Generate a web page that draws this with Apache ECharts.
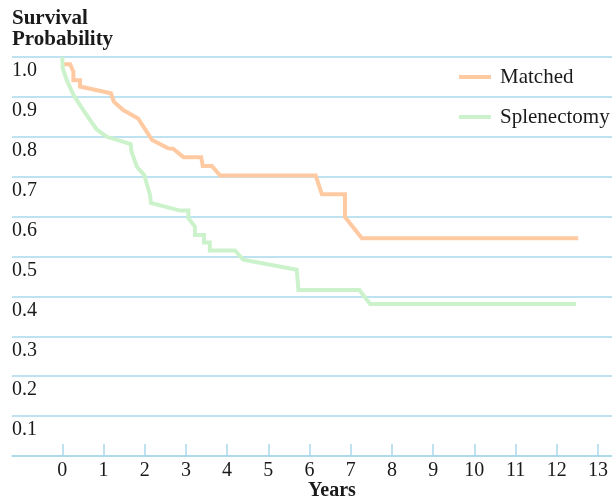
<!DOCTYPE html>
<html>
<head>
<meta charset="utf-8">
<script src="https://cdn.jsdelivr.net/npm/echarts@6/dist/echarts.min.js"></script>
<style>
  html, body { margin: 0; padding: 0; background: #fff; }
  #chart { width: 612px; height: 501px; }
</style>
</head>
<body>
<div id="chart"></div>
<script>
// Kaplan-Meier style curves: [years, survival]
const matchedYears = [0.02, 0.19, 0.27, 0.27, 0.43, 0.43, 1.18, 1.25, 1.48, 1.84, 2.18, 2.57, 2.69, 2.94, 3.37, 3.41, 3.63, 3.83, 6.15, 6.30, 6.86, 6.86, 7.27, 12.52]
const matchedSurv = [0.982, 0.982, 0.963, 0.942, 0.942, 0.926, 0.909, 0.888, 0.867, 0.846, 0.792, 0.771, 0.770, 0.749, 0.749, 0.727, 0.727, 0.703, 0.703, 0.656, 0.656, 0.599, 0.546, 0.546]

const splenYears = [0.0, 0.01, 0.11, 0.27, 0.51, 0.83, 1.08, 1.66, 1.68, 1.81, 1.99, 2.13, 2.15, 2.86, 3.06, 3.06, 3.22, 3.22, 3.44, 3.44, 3.58, 3.58, 4.19, 4.39, 5.69, 5.73, 7.21, 7.47, 12.47]
const splenSurv = [1.0, 0.972, 0.942, 0.905, 0.867, 0.819, 0.800, 0.782, 0.763, 0.725, 0.704, 0.654, 0.634, 0.615, 0.615, 0.596, 0.575, 0.554, 0.554, 0.535, 0.535, 0.515, 0.515, 0.492, 0.467, 0.416, 0.416, 0.381, 0.381]

const yearTicks = [0, 1, 2, 3, 4, 5, 6, 7, 8, 9, 10, 11, 12, 13]
const seriesNames = ['Matched', 'Splenectomy']

const gridColor = '#a9d9ea'
const font = '"Liberation Serif", "Times New Roman", serif'

const zip = (xs, ys) => xs.map((x, i) => [x, ys[i]])

const chart = echarts.init(document.getElementById('chart'))
chart.setOption({
  animation: false,
  title: {
    text: 'Survival\nProbability',
    left: 12,
    top: 8,
    padding: 0,
    textStyle: { fontFamily: font, fontSize: 21, fontWeight: 'bold', color: '#1a1a1a', lineHeight: 21 }
  },
  legend: {
    orient: 'vertical',
    left: 459,
    top: 66,
    padding: 0,
    itemWidth: 32,
    itemHeight: 4,
    itemGap: 18,
    icon: 'rect',
    data: seriesNames,
    textStyle: { fontFamily: font, fontSize: 21, color: '#1a1a1a', lineHeight: 22, padding: [0, 0, 0, 4] }
  },
  grid: { left: 12, right: 0, top: 57, bottom: 45 },
  xAxis: {
    type: 'value',
    min: -1.22,
    max: 13.34,
    axisLine: { show: true, lineStyle: { color: gridColor, width: 1.5 } },
    axisTick: { show: true, inside: true, length: 12, customValues: yearTicks, lineStyle: { color: gridColor, width: 1.5 } },
    axisLabel: { customValues: yearTicks, margin: 5, fontFamily: font, fontSize: 20, color: '#1a1a1a' },
    splitLine: { show: false }
  },
  yAxis: {
    type: 'value',
    min: 0,
    max: 1,
    interval: 0.1,
    axisLine: { show: false },
    axisTick: { show: false },
    axisLabel: {
      inside: true,
      margin: 0,
      verticalAlign: 'top',
      padding: [4, 0, 0, 0],
      fontFamily: font,
      fontSize: 20,
      color: '#1a1a1a',
      formatter: (v) => (v < 0.05 ? '' : v.toFixed(1))
    },
    splitLine: { show: true, lineStyle: { color: gridColor, width: 1.5 } }
  },
  graphic: [{
    type: 'text',
    x: 332,
    y: 491,
    style: { text: 'Years', fontFamily: font, fontSize: 20, fontWeight: 'bold', fill: '#1a1a1a', textAlign: 'center', textVerticalAlign: 'middle' }
  }],
  series: [
    {
      name: seriesNames[0],
      type: 'line',
      data: zip(matchedYears, matchedSurv),
      showSymbol: false,
      symbol: 'none',
      color: '#ffc9a1',
      lineStyle: { width: 4, color: '#ffc9a1', join: 'miter' }
    },
    {
      name: seriesNames[1],
      type: 'line',
      data: zip(splenYears, splenSurv),
      showSymbol: false,
      symbol: 'none',
      color: '#ccf2cc',
      lineStyle: { width: 4, color: '#ccf2cc', join: 'miter' }
    }
  ]
})
</script>
</body>
</html>
